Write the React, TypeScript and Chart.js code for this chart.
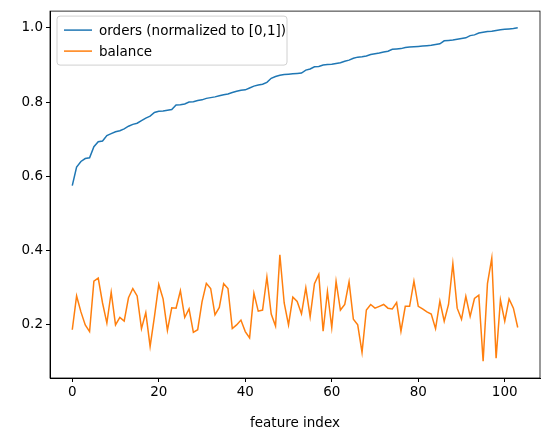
import React, { useEffect, useRef } from "react";
import { Chart, registerables } from "chart.js";
Chart.register(...registerables);

const orders = [0.575,0.625,0.64,0.648,0.65,0.68,0.693,0.695,0.71,0.715,0.72,0.723,0.728,0.735,0.74,0.743,0.75,0.757,0.762,0.772,0.775,0.776,0.778,0.78,0.792,0.793,0.795,0.8,0.801,0.804,0.806,0.81,0.812,0.814,0.817,0.82,0.822,0.826,0.829,0.832,0.833,0.838,0.843,0.846,0.848,0.853,0.864,0.869,0.872,0.874,0.875,0.876,0.877,0.878,0.886,0.889,0.895,0.896,0.9,0.901,0.902,0.904,0.906,0.91,0.913,0.918,0.921,0.922,0.924,0.928,0.93,0.932,0.935,0.937,0.942,0.943,0.944,0.947,0.948,0.949,0.95,0.951,0.952,0.953,0.955,0.957,0.965,0.966,0.967,0.969,0.971,0.973,0.979,0.981,0.986,0.988,0.99,0.991,0.993,0.995,0.996,0.997,0.998,1.0];
const balance = [0.187,0.278,0.235,0.2,0.182,0.318,0.326,0.259,0.205,0.288,0.2,0.22,0.21,0.273,0.298,0.278,0.19,0.233,0.142,0.222,0.309,0.27,0.185,0.246,0.245,0.292,0.22,0.243,0.18,0.187,0.262,0.312,0.298,0.227,0.247,0.311,0.298,0.19,0.2,0.213,0.182,0.165,0.285,0.237,0.24,0.329,0.229,0.197,0.389,0.259,0.2,0.275,0.263,0.23,0.3,0.222,0.311,0.336,0.183,0.29,0.193,0.317,0.24,0.255,0.316,0.215,0.2,0.126,0.24,0.255,0.245,0.25,0.255,0.245,0.243,0.26,0.183,0.25,0.25,0.318,0.25,0.243,0.235,0.229,0.19,0.264,0.21,0.255,0.365,0.245,0.215,0.277,0.223,0.271,0.28,0.102,0.311,0.38,0.11,0.267,0.21,0.27,0.245,0.193];
const xTicks = [0, 20, 40, 60, 80, 100];
const yTicks = [0.2, 0.4, 0.6, 0.8, 1.0];
const labels = ["orders (normalized to [0,1])", "balance"];
const colors = ["#1f77b4", "#ff7f0e"];
const FONT = "'DejaVu Sans', sans-serif";

export default function App() {
  const ref = useRef<HTMLCanvasElement>(null);
  useEffect(() => {
    document.body.style.margin = "0";
    const frame = {
      id: "frame",
      afterDraw(c: any) {
        const { ctx, chartArea: a } = c;
        ctx.save();
        ctx.strokeStyle = "#000";
        ctx.lineWidth = 0.8;
        ctx.strokeRect(a.left, a.top, a.right - a.left, a.bottom - a.top);
        const lx = a.left + 7, ly = a.top + 5, w = 230, h = 49;
        ctx.fillStyle = "rgba(255,255,255,0.8)";
        ctx.strokeStyle = "#d0d0d0";
        ctx.lineWidth = 1;
        ctx.beginPath();
        (ctx as any).roundRect(lx, ly, w, h, 3);
        ctx.fill();
        ctx.stroke();
        ctx.font = "13.5px " + FONT;
        ctx.textBaseline = "middle";
        labels.forEach((t, i) => {
          const y = ly + 14 + i * 21;
          ctx.strokeStyle = colors[i];
          ctx.lineWidth = 1.5;
          ctx.beginPath();
          ctx.moveTo(lx + 7, y);
          ctx.lineTo(lx + 35, y);
          ctx.stroke();
          ctx.fillStyle = "#000";
          ctx.fillText(t, lx + 42, y + 1);
        });
        ctx.restore();
      },
    };
    const chart = new Chart(ref.current!, {
      type: "line",
      data: {
        datasets: [orders, balance].map((arr, k) => ({
          label: labels[k],
          data: arr.map((v, i) => ({ x: i, y: v })),
          borderColor: colors[k],
          borderWidth: 1.5,
          pointRadius: 0,
          tension: 0,
        })),
      },
      options: {
        animation: false,
        responsive: false,
        layout: { padding: { top: 8, right: 7, left: 0, bottom: 0 } },
        plugins: { legend: { display: false }, tooltip: { enabled: false } },
        scales: {
          x: {
            type: "linear",
            min: -5.15,
            max: 108.15,
            afterBuildTicks: (s: any) => { s.ticks = xTicks.map((v) => ({ value: v })); },
            afterFit: (s: any) => { s.height = 54; },
            grid: { drawOnChartArea: false, tickLength: 4, color: "#000" },
            border: { color: "#000" },
            ticks: { color: "#000", font: { family: FONT, size: 13.5 }, padding: 2, maxRotation: 0 },
            title: { display: true, text: "feature index", color: "#000", font: { family: FONT, size: 13.5 }, padding: { top: 0, bottom: 0 } },
          },
          y: {
            min: 0.057,
            max: 1.045,
            afterBuildTicks: (s: any) => { s.ticks = yTicks.map((v) => ({ value: v })); },
            afterFit: (s: any) => { s.width = 50; },
            grid: { drawOnChartArea: false, tickLength: 4, color: "#000" },
            border: { color: "#000" },
            ticks: { color: "#000", font: { family: FONT, size: 13.5 }, padding: 3, callback: (v: any) => Number(v).toFixed(1) },
          },
        },
      },
      plugins: [frame],
    });
    return () => chart.destroy();
  }, []);
  return (
    <div style={{ width: 547, height: 432 }}>
      <canvas ref={ref} width={547} height={432} style={{ width: 547, height: 432 }} />
    </div>
  );
}
